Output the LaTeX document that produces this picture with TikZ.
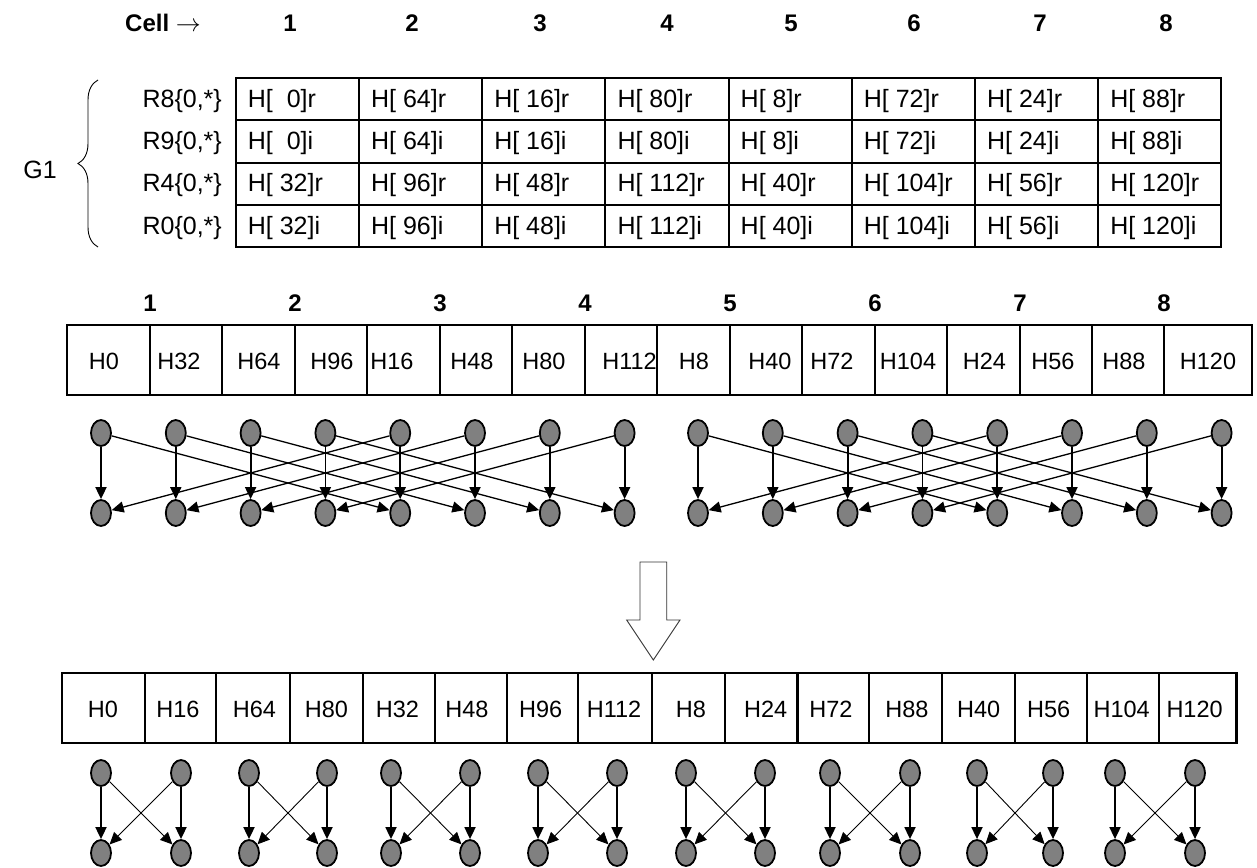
\documentclass[tikz,border=0pt]{standalone}
\usepackage{fontspec}
\setmainfont{Liberation Sans}
\usetikzlibrary{arrows.meta,shapes.geometric,decorations.pathreplacing}
\begin{document}
\begin{tikzpicture}[x=1pt,y=-1pt,
  hdr/.style={font=\fontsize{24}{28}\selectfont\bfseries, inner sep=0pt},
  tlab/.style={font=\fontsize{25}{30}\selectfont, inner sep=0pt},
  tcell/.style={draw=black, line width=2pt, minimum width=123.2pt, minimum height=42.3pt, inner sep=0pt},
  mcell/.style={draw=black, line width=2.4pt, minimum height=70pt, inner sep=0pt},
  mtxt/.style={font=\fontsize{23.5}{28}\selectfont, inner sep=0pt},
  gnode/.style={ellipse, draw=black, fill=gray, line width=1.8pt, minimum width=20pt, minimum height=26pt, inner sep=0pt},
  vedge/.style={line width=1.8pt, -{Triangle[length=12pt,width=11pt]}},
  dedge/.style={line width=1.3pt, -{Triangle[length=12pt,width=11pt]}},
  xedge/.style={line width=0.9pt, -{Triangle[length=12pt,width=11pt]}},
  gbrace/.style={decorate, decoration={brace, amplitude=20pt}, line width=0.9pt},
  bigarrow/.style={draw=black!80, line width=0.9pt, fill=white}
]
\useasboundingbox (0,0) rectangle (1257,867);

% header row
\node[hdr] (cellhdr) at (163,23) {Cell $\rightarrow$};
\foreach \n/\x in {1/290,2/412,3/540,4/667,5/791,6/914,7/1040,8/1166}
  \node[hdr] (c\n) at (\x,23) {\n};

% top table
\foreach \rw/\rlab/\sx/\vals in {1/R8/r/{0,64,16,80,8,72,24,88},2/R9/i/{0,64,16,80,8,72,24,88},3/R4/r/{32,96,48,112,40,104,56,120},4/R0/i/{32,96,48,112,40,104,56,120}}{
  \pgfmathsetmacro{\yc}{78+(\rw-0.5)*42.3}
  \node[tlab, anchor=base east] (rl\rw) at (222,\yc+8) {\rlab\{0,*\}};
  \foreach \v [count=\c] in \vals {
    \pgfmathsetmacro{\xl}{234.7+(\c-1)*123.2}
    \node[tcell, anchor=west] (tc\rw\c) at (\xl,\yc) {};
    \node[tlab, anchor=base west] (tt\rw\c) at (\xl+13,\yc+8) {H[ \ifnum\v=0 \ \fi\v]\sx};
  }
}

% brace and G1
\coordinate (bt) at (98,80);
\coordinate (bb) at (98,247);
\draw[gbrace] (bb) -- (bt);
\node[tlab] (g1) at (40,170) {G1};

% middle numbers
\foreach \n/\x in {1/150,2/295,3/440,4/585,5/730,6/875,7/1020,8/1164}
  \node[hdr] (mn\n) at (\x,303) {\n};

% middle table
\foreach \lx/\rx/\tx/\lab [count=\i] in {67/150/104/H0, 150/222/179/H32, 222/295/259/H64, 295/367/332/H96, 367/440/392/H16, 440/512/472/H48, 512/585/544/H80, 585/657/629.5/H112, 657/730/694/H8, 730/802/770/H40, 802/875/832/H72, 875/947/908/H104, 947/1020/984.5/H24, 1020/1092/1053/H56, 1092/1164/1124/H88, 1164/1252/1208/H120}{
  \node[mcell, minimum width={(\rx-\lx)*1pt}] (mc\i) at ({(\lx+\rx)/2},360) {};
  \node[mtxt] (mt\i) at (\tx,361) {\lab};
}

% top butterfly graph
\foreach \i in {1,...,8}{
  \pgfmathtruncatemacro{\j}{\i+8}
  \node[gnode] (a\i) at ({101+(\i-1)*74.8},433) {};
  \node[gnode] (b\i) at ({101+(\i-1)*74.8},513) {};
  \node[gnode] (a\j) at ({698+(\i-1)*74.8},433) {};
  \node[gnode] (b\j) at ({698+(\i-1)*74.8},513) {};
}
\foreach \i in {1,...,16} \draw[vedge] (a\i) -- (b\i);
\foreach \i in {1,2,3,4,9,10,11,12}{
  \pgfmathtruncatemacro{\j}{\i+4}
  \draw[dedge] (a\i) -- (b\j);
  \draw[dedge] (a\j) -- (b\i);
}

% big arrow
\draw[bigarrow] (640,562) -- (666.7,562) -- (666.7,620) -- (680,620) -- (653.3,660) -- (626.7,620) -- (640,620) -- cycle;

% bottom table
\foreach \lx/\rx/\tx/\lab [count=\i] in {62/145/103/H0, 145/216/178/H16, 216/290/254.5/H64, 290/363/326.5/H80, 363/435/397.5/H32, 435/507/467/H48, 507/578/540.6/H96, 578/652/614/H112, 652/725/691/H8, 725/797.5/765.6/H24, 797.5/869/831/H72, 869/942/907/H88, 942/1015/978.6/H40, 1015/1087/1048.6/H56, 1087/1159/1121.7/H104, 1159/1236.5/1194.6/H120}{
  \node[mcell, minimum width={(\rx-\lx)*1pt}] (bc\i) at ({(\lx+\rx)/2},708) {};
  \node[mtxt] (bt\i) at (\tx,709) {\lab};
}

% bottom pair graphs
\foreach \xl/\xr [count=\k] in {101/181, 249/327, 391/470, 538/617, 686/765, 830/910, 977/1053, 1115/1195}{
  \node[gnode] (cl\k) at (\xl,773) {};
  \node[gnode] (cr\k) at (\xr,773) {};
  \node[gnode] (dl\k) at (\xl,853) {};
  \node[gnode] (dr\k) at (\xr,853) {};
  \draw[vedge] (cl\k) -- (dl\k);
  \draw[vedge] (cr\k) -- (dr\k);
  \draw[xedge] (cl\k) -- (dr\k);
  \draw[xedge] (cr\k) -- (dl\k);
}
\end{tikzpicture}
\end{document}
